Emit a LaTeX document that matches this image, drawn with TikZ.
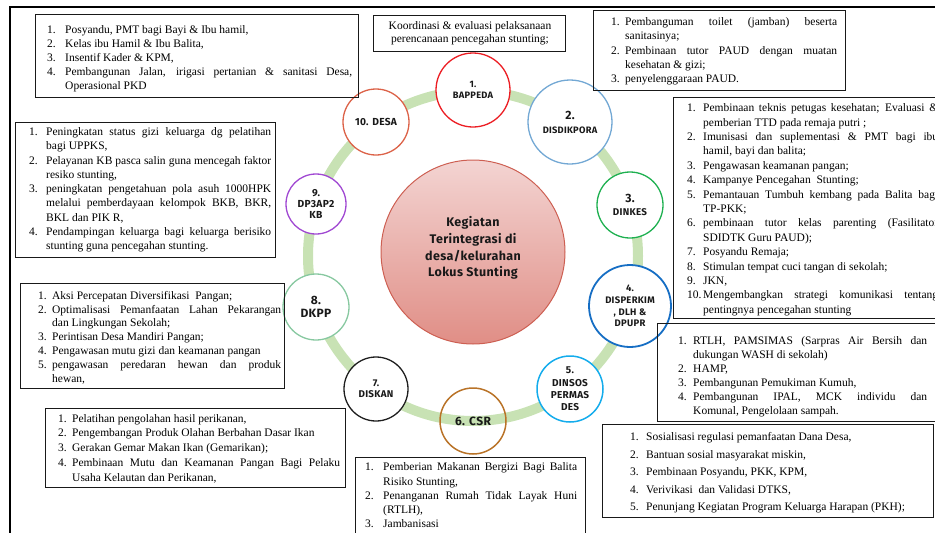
\documentclass[tikz,border=0pt]{standalone}
\usepackage{fontspec}
\setmainfont{Liberation Serif}
\newfontfamily\labf{Fira Sans}[LetterSpace=3]
\definecolor{ringg}{RGB}{200,226,180}
\definecolor{cred}{RGB}{236,30,36}
\definecolor{cdisd}{RGB}{115,168,212}
\definecolor{cdink}{RGB}{30,176,80}
\definecolor{cdisp}{RGB}{22,110,196}
\definecolor{cdins}{RGB}{20,172,236}
\definecolor{ccsr}{RGB}{185,115,40}
\definecolor{cdisk}{RGB}{30,30,30}
\definecolor{cdkpp}{RGB}{135,200,160}
\definecolor{cdp3}{RGB}{160,72,210}
\definecolor{cdesa}{RGB}{220,98,72}
\definecolor{bigtop}{RGB}{243,212,210}
\definecolor{bigbot}{RGB}{224,142,134}
\definecolor{bigline}{RGB}{205,95,82}
\newlength\lind
\newlength\ltw
\newcommand\NJ[2]{\makebox[\lind][l]{#1}\makebox[\ltw][s]{#2}}
\newcommand\NR[2]{\makebox[\lind][l]{#1}#2}
\newcommand\CJ[1]{\hspace*{\lind}\makebox[\ltw][s]{#1}}
\newcommand\CR[1]{\hspace*{\lind}#1}
\begin{document}
\begin{tikzpicture}[x=1pt,y=-1pt,
  box/.style={draw=black!90, line width=1.2pt, inner sep=0pt, anchor=north west},
  ltxt/.style={anchor=north west, inner sep=0pt, align=left, font=\fontsize{11.5}{#1}\selectfont},
  org/.style={circle, draw, line width=1.3pt, fill=white, inner sep=0pt, align=center, text=black!90},
  ring/.style={draw=ringg, line width=10pt}
]
\useasboundingbox (0,0) rectangle (935,533);
\clip (0,0) rectangle (935,533);
% frame
\coordinate (fbl) at (10,533);
\coordinate (ftl) at (10,7);
\coordinate (ftr) at (935,7);
\draw[line width=1.5pt] (fbl) -- (ftl) -- (ftr);

% ring and centre
\coordinate (rc) at (473,256);
\draw[ring] (rc) circle[radius=165];
\node[circle, minimum size=184pt, inner sep=0pt, draw=bigline, line width=1pt,
      top color=bigtop, bottom color=bigbot] (pusat) at (473,252) {};
\node[align=center, font=\labf\bfseries\fontsize{12.5}{16.7}\selectfont, text=black!90] (pusatt) at (473,248)
  {Kegiatan\\Terintegrasi di\\desa/kelurahan\\Lokus Stunting};

% organisation circles
\node[org, draw=cred, minimum size=74pt, font=\labf\bfseries\fontsize{9.3}{11}\selectfont] (bappeda) at (473,90) {1.\\BAPPEDA};
\node[org, draw=cdisd, minimum size=84pt, font=\labf\bfseries\fontsize{9.3}{14}\selectfont] (disdik) at (570,122) {{\fontsize{12}{14}\selectfont 2.}\\DISDIKPORA};
\node[org, draw=cdink, minimum size=66pt, font=\labf\bfseries\fontsize{9.8}{13}\selectfont] (dinkes) at (630,205) {{\fontsize{12}{13}\selectfont 3.}\\DINKES};
\node[org, draw=cdisp, line width=1.8pt, minimum size=82pt, font=\labf\bfseries\fontsize{9.5}{11.7}\selectfont] (disperkim) at (630,306) {4.\\DISPERKIM\\, DLH \&\\DPUPR};
\node[org, draw=cdins, line width=1.5pt, minimum size=66pt, font=\labf\bfseries\fontsize{10}{12.3}\selectfont] (dinsos) at (570,389) {5.\\DINSOS\\PERMAS\\DES};
\node[org, draw=ccsr, line width=1.5pt, fill=none, minimum size=66pt, font=\labf\bfseries\fontsize{12}{14}\selectfont] (csr) at (473,421) {6. CSR};
\node[org, draw=cdisk, minimum size=64pt, font=\labf\bfseries\fontsize{9.8}{11.5}\selectfont] (diskan) at (376,389) {7.\\DISKAN};
\node[org, draw=cdkpp, minimum size=66pt, font=\labf\bfseries\fontsize{12}{13}\selectfont] (dkpp) at (316,307) {8.\\DKPP};
\node[org, draw=cdp3, minimum size=60pt, font=\labf\bfseries\fontsize{10.2}{11}\selectfont] (dp3) at (316,204) {9.\\DP3AP2\\KB};
\node[org, draw=cdesa, minimum size=66pt, font=\labf\bfseries\fontsize{10.2}{12}\selectfont] (desa) at (376,122) {10. DESA};

% ---- boxes ----
% DESA
\node[box, minimum width=323pt, minimum height=83pt] (bdesa) at (35,14) {};
\setlength\lind{18pt}\setlength\ltw{287pt}
\node[ltxt=14] (tdesa) at (47,23.5) {\strut\NR{1.}{Posyandu, PMT bagi Bayi \& Ibu hamil,}\\
\NR{2.}{Kelas ibu Hamil \& Ibu Balita,}\\
\NR{3.}{Insentif Kader \& KPM,}\\
\NJ{4.}{Pembangunan Jalan, irigasi pertanian \& sanitasi Desa,}\\
\CR{Operasional PKD}};

% BAPPEDA
\node[box, minimum width=192pt, minimum height=36pt] (bbap) at (373,15) {};
\node[align=center, inner sep=0pt, font=\fontsize{11.5}{13.2}\selectfont] (tbap) at (470,33.5)
 {Koordinasi \& evaluasi pelaksanaan\\perencanaan pencegahan stunting;};

% DISDIKPORA
\node[box, minimum width=252pt, minimum height=80pt] (bdisdik) at (593,10) {};
\setlength\lind{14pt}\setlength\ltw{212pt}
\node[ltxt=14.25] (tdisdik) at (611,15.5) {\strut\NJ{1.}{Pembanguman toilet (jamban) beserta}\\
\CR{sanitasinya;}\\
\NJ{2.}{Pembinaan tutor PAUD dengan muatan}\\
\CR{kesehatan \& gizi;}\\
\NR{3.}{penyelenggaraan PAUD.}};

% DINKES
\node[box, minimum width=270pt, minimum height=221pt] (bdinkes) at (673,97) {};
\setlength\lind{16pt}\setlength\ltw{235pt}
\node[ltxt=14.4] (tdinkes) at (687,101.5) {\strut\NJ{1.}{Pembinaan teknis petugas kesehatan; Evaluasi \&}\\
\CR{pemberian TTD pada remaja putri ;}\\
\NJ{2.}{Imunisasi dan suplementasi \& PMT bagi ibu}\\
\CR{hamil, bayi dan balita;}\\
\NR{3.}{Pengawasan keamanan pangan;}\\
\NR{4.}{Kampanye Pencegahan\ \ Stunting;}\\
\NJ{5.}{Pemantauan Tumbuh kembang pada Balita bagi}\\
\CR{TP-PKK;}\\
\NJ{6.}{pembinaan tutor kelas parenting (Fasilitator}\\
\CR{SDIDTK Guru PAUD);}\\
\NR{7.}{Posyandu Remaja;}\\
\NR{8.}{Stimulan tempat cuci tangan di sekolah;}\\
\NR{9.}{JKN,}\\
\NJ{10.}{Mengembangkan strategi komunikasi tentang}\\
\CR{pentingnya pencegahan stunting}};

% DISPERKIM
\node[box, minimum width=285pt, minimum height=98pt] (bdisp) at (657,323) {};
\setlength\lind{15pt}\setlength\ltw{234pt}
\node[ltxt=14] (tdisp) at (678,334.5) {\strut\NJ{1.}{RTLH, PAMSIMAS (Sarpras Air Bersih dan}\\
\CR{dukungan WASH di sekolah)}\\
\NR{2.}{HAMP,}\\
\NR{3.}{Pembangunan Pemukiman Kumuh,}\\
\NJ{4.}{Pembangunan IPAL, MCK individu dan}\\
\CR{Komunal, Pengelolaan sampah.}};

% DINSOS
\node[box, minimum width=331pt, minimum height=93pt] (bdinsos) at (602,424) {};
\setlength\lind{16pt}
\node[ltxt=17.5] (tdinsos) at (630,428.5) {\strut\NR{1.}{Sosialisasi regulasi pemanfaatan Dana Desa,}\\
\NR{2.}{Bantuan sosial masyarakat miskin,}\\
\NR{3.}{Pembinaan Posyandu, PKK, KPM,}\\
\NR{4.}{Verivikasi\ \ dan Validasi DTKS,}\\
\NR{5.}{Penunjang Kegiatan Program Keluarga Harapan (PKH);}};

% CSR
\node[box, minimum width=230pt, minimum height=90pt] (bcsr) at (355,457) {};
\setlength\lind{18pt}\setlength\ltw{194pt}
\node[ltxt=14.3] (tcsr) at (365,460.5) {\strut\NJ{1.}{Pemberian Makanan Bergizi Bagi Balita}\\
\CR{Risiko Stunting,}\\
\NJ{2.}{Penanganan Rumah Tidak Layak Huni}\\
\CR{(RTLH),}\\
\NR{3.}{Jambanisasi}};

% DISKAN
\node[box, minimum width=300pt, minimum height=79pt] (bdiskan) at (45,408) {};
\setlength\lind{14pt}\setlength\ltw{268pt}
\node[ltxt=14.75] (tdiskan) at (58,411.5) {\strut\NR{1.}{Pelatihan pengolahan hasil perikanan,}\\
\NR{2.}{Pengembangan Produk Olahan Berbahan Dasar Ikan}\\
\NR{3.}{Gerakan Gemar Makan Ikan (Gemarikan);}\\
\NJ{4.}{Pembinaan Mutu dan Keamanan Pangan Bagi Pelaku}\\
\CR{Usaha Kelautan dan Perikanan,}};

% DKPP
\node[box, minimum width=264pt, minimum height=105pt] (bdkpp) at (20,283) {};
\setlength\lind{14pt}\setlength\ltw{229pt}
\node[ltxt=13.8] (tdkpp) at (38,289.5) {\strut\NR{1.}{Aksi Percepatan Diversifikasi\ \ Pangan;}\\
\NJ{2.}{Optimalisasi Pemanfaatan Lahan Pekarangan}\\
\CR{dan Lingkungan Sekolah;}\\
\NR{3.}{Perintisan Desa Mandiri Pangan;}\\
\NR{4.}{Pengawasan mutu gizi dan keamanan pangan}\\
\NJ{5.}{pengawasan peredaran hewan dan produk}\\
\CR{hewan,}};

% DP3AP2KB
\node[box, minimum width=260pt, minimum height=135pt] (bdp3) at (15,122) {};
\setlength\lind{17pt}\setlength\ltw{225pt}
\node[ltxt=14.25] (tdp3) at (29,125.5) {\strut\NJ{1.}{Peningkatan status gizi keluarga dg pelatihan}\\
\CR{bagi UPPKS,}\\
\NJ{2.}{Pelayanan KB pasca salin guna mencegah faktor}\\
\CR{resiko stunting,}\\
\NJ{3.}{peningkatan pengetahuan pola asuh 1000HPK}\\
\CJ{melalui pemberdayaan kelompok BKB, BKR,}\\
\CR{BKL dan PIK R,}\\
\NJ{4.}{Pendampingan keluarga bagi keluarga berisiko}\\
\CR{stunting guna pencegahan stunting.}};
\end{tikzpicture}
\end{document}
